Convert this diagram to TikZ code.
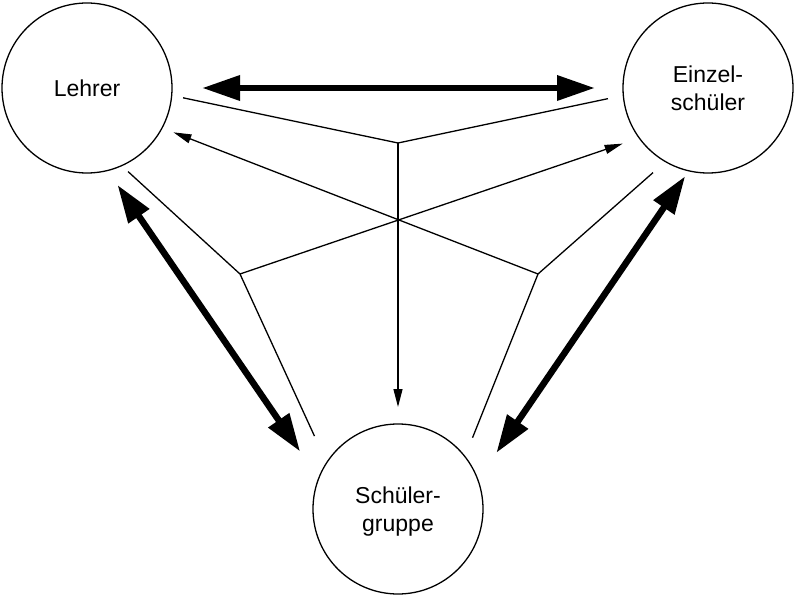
\documentclass[tikz,border=0pt]{standalone}
\usepackage{fontspec}
\setmainfont{Liberation Sans}
\usepackage{tikz}
\usetikzlibrary{arrows.meta}
\newcommand{\rolefont}{\fontsize{23}{28.4}\selectfont}

\begin{document}
\begin{tikzpicture}[x=1pt,y=-1pt,
  role/.style={circle, draw, line width=1.3pt, minimum size=170pt, inner sep=0pt, outer sep=0pt, align=center, font=\rolefont},
  link/.style={line width=1.3pt},
  thinarrow/.style={link, -{Triangle[length=18pt,width=9pt]}},
  bigarrow/.style={line width=6.5pt, {Triangle[length=38pt,width=24pt]}-{Triangle[length=38pt,width=24pt]}}]
\useasboundingbox (0,0) rectangle (796,599);
\node[role] (lehrer) at (87,88) {Lehrer};
\node[role] (einzel) at (708,88) {Einzel-\\schüler};
\node[role, text depth=0pt] (gruppe) at (398,509) {Schüler-\\gruppe};
\coordinate (jtop) at (398,143);
\coordinate (jleft) at (240,274);
\coordinate (jright) at (538,274);
\draw[bigarrow, shorten <=30pt, shorten >=28pt] (lehrer.0) -- (einzel.180);
\draw[bigarrow, shorten <=17.5pt, shorten >=32.7pt] (lehrer.-76.3) -- (gruppe.159.3);
\draw[bigarrow, shorten <=6.4pt, shorten >=32.7pt] (einzel.-103.2) -- (gruppe.20.7);
\draw[link, shorten <=11.7pt, shorten >=15.7pt] (lehrer.-5.9) -- (jtop) -- (einzel.185.3);
\draw[thinarrow, shorten >=17pt] (jtop) -- (gruppe.90);
\draw[link, shorten <=8.8pt, shorten >=29.3pt] (lehrer.-66.8) -- (jleft) -- (gruppe.147.8);
\draw[thinarrow, shorten >=17.5pt] (jleft) -- (einzel.216.4);
\draw[link, shorten <=16.6pt, shorten >=20.4pt] (einzel.-120.9) -- (jright) -- (gruppe.38.7);
\draw[thinarrow, shorten >=12.2pt] (jright) -- (lehrer.-28.6);
\end{tikzpicture}
\end{document}
